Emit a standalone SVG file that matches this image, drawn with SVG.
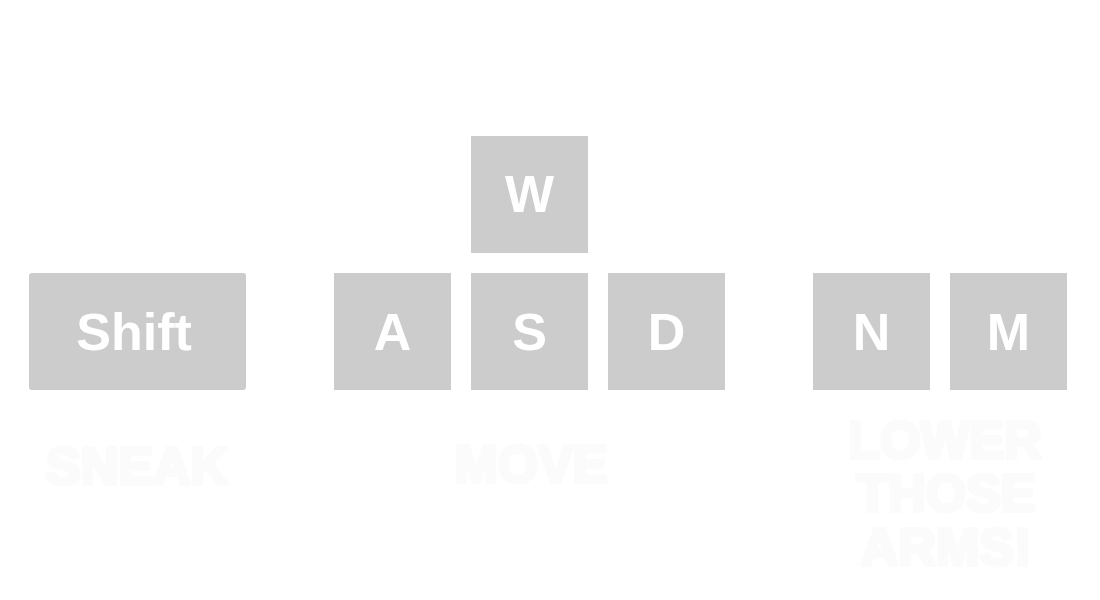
<svg xmlns="http://www.w3.org/2000/svg" width="1100" height="600" viewBox="0 0 1100 600">
<style>
.key rect{fill:#cccccc}
.key text{fill:#ffffff;font-family:"Liberation Sans",Arial,sans-serif;font-weight:bold;font-size:52px;text-anchor:middle}
.lbl{fill:#fbfbfb;stroke:#fbfbfb;stroke-width:4;stroke-linejoin:round;font-family:"Liberation Sans",Arial,sans-serif;font-weight:bold;font-size:52px;text-anchor:middle}
</style>
<rect width="1100" height="600" fill="#ffffff"/>
<g id="key-w" class="key"><rect x="471" y="136" width="117" height="117"/><text x="529.5" y="212">W</text></g>
<g id="key-shift" class="key"><rect x="29" y="273" width="217" height="117" rx="3"/><text x="134" y="350">Shift</text></g>
<g id="key-a" class="key"><rect x="334" y="273" width="117" height="117"/><text x="392.5" y="350">A</text></g>
<g id="key-s" class="key"><rect x="471" y="273" width="117" height="117"/><text x="529.5" y="350">S</text></g>
<g id="key-d" class="key"><rect x="608" y="273" width="117" height="117"/><text x="666.5" y="350">D</text></g>
<g id="key-n" class="key"><rect x="813" y="273" width="117" height="117"/><text x="871.5" y="350">N</text></g>
<g id="key-m" class="key"><rect x="950" y="273" width="117" height="117"/><text x="1008.5" y="350">M</text></g>
<g id="labels">
<text class="lbl" x="137" y="484">SNEAK</text>
<text class="lbl" x="531" y="482">MOVE</text>
<text class="lbl" x="945" y="458">LOWER</text>
<text class="lbl" x="946" y="511">THOSE</text>
<text class="lbl" x="946" y="565">ARMS!</text>
</g>
<g id="connectors"/>
</svg>
